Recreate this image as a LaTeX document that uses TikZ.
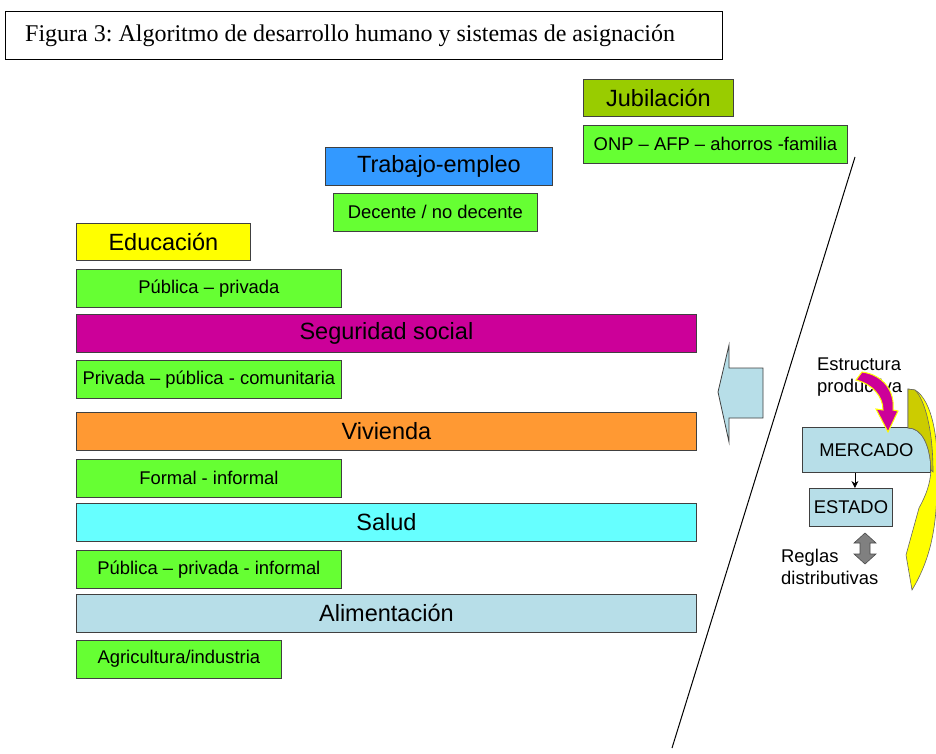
\documentclass[tikz,border=0pt]{standalone}
\usepackage{fontspec}
\setmainfont{Liberation Serif}
\setsansfont{Liberation Sans}
\usetikzlibrary{positioning, arrows.meta}
\frenchspacing

\definecolor{verde}{HTML}{66FF33}
\definecolor{oliva}{HTML}{99CC00}
\definecolor{azul}{HTML}{3399FF}
\definecolor{magenta2}{HTML}{CC0099}
\definecolor{naranja}{HTML}{FF9933}
\definecolor{cian}{HTML}{66FFFF}
\definecolor{celeste}{HTML}{B7DEE8}
\definecolor{amarillo}{HTML}{FFFF00}
\definecolor{olivaosc}{HTML}{CCCC00}

\newcommand{\grande}{\sffamily\fontsize{23.5}{28}\selectfont}
\newcommand{\chico}{\sffamily\fontsize{18.4}{22}\selectfont}

\tikzset{
	caja/.style={draw=black!75, line width=0.8pt, inner sep=0pt, minimum height=38},
	barra/.style={caja, anchor=north west, minimum width=620, font=\grande},
	rotulo/.style={caja, anchor=north west, font=\grande},
	sub/.style={caja, fill=verde, minimum width=265, font=\chico}
}

\begin{document}
\begin{tikzpicture}[x=1pt, y=-1pt]
		\useasboundingbox (0,0) rectangle (936,754);
		
		% titulo
		\draw[line width=0.8pt] (5,11) rectangle (722,59);
		\node[anchor=west, inner sep=0pt, font=\fontsize{24}{28}\selectfont] (titulo) at (25,36)
		{Figura 3: Algoritmo de desarrollo humano y sistemas de asignación};
		
		% escalones
		\node[rotulo, fill=oliva, minimum width=150, minimum height=37] (jub) at (583,79) {Jubilación};
		\node[sub, below right = 8pt and 0pt of jub.south west, minimum width=264] (onp) {ONP – AFP – ahorros -familia};
		
		\node[rotulo, fill=azul, minimum width=227] (trab) at (325,147) {Trabajo-empleo};
		\node[sub, below right = 7pt and 8pt of trab.south west, minimum width=204] (dec) {Decente / no decente};
		
		\node[rotulo, fill=amarillo, minimum width=174, minimum height=37] (edu) at (76,223) {Educación};
		\node[sub, below right = 8pt and 0pt of edu.south west] (edupp) {Pública – privada};
		
		% barras
		\node[barra, fill=magenta2] (seg) at (76,314) {Seguridad social};
		\node[sub, below right = 7pt and 0pt of seg.south west] (segppc) {Privada – pública - comunitaria};
		
		\node[barra, fill=naranja] (viv) at (76,412) {Vivienda};
		\node[sub, below right = 8pt and 0pt of viv.south west] (vivfi) {Formal - informal};
		
		\node[barra, fill=cian] (sal) at (76,503) {Salud};
		\node[sub, below right = 8pt and 0pt of sal.south west] (salppi) {Pública – privada - informal};
		
		\node[barra, fill=celeste] (ali) at (76,594) {Alimentación};
		\node[sub, below right = 7pt and 0pt of ali.south west, minimum width=205] (agr) {Agricultura/industria};
		
		% linea diagonal
		\draw[line width=1pt] (855,157) -- (672,748);
		
		% flecha izquierda
		\draw[draw=black!75, fill=celeste, line width=0.8pt]
		(718,392) -- (729,345) -- (729,368) -- (763,368) -- (763,418) -- (729,418) -- (729,442) -- cycle;
		
		% lado derecho
		\node[anchor=north west, inner sep=0pt, align=left, font=\chico] (estr) at (817,358) {Estructura\\productiva};
		\node[caja, anchor=north west, fill=celeste, minimum width=128, minimum height=45, font=\chico] (mer) at (802,427) {MERCADO};
		\node[caja, anchor=north west, fill=celeste, minimum width=83, font=\chico] (est) at (809,488) {ESTADO};
		\draw[-{Stealth[length=7pt, width=7pt]}, line width=0.8pt] ([xshift=4]est.north |- mer.south) -- ([xshift=4]est.north);
		\node[anchor=north west, inner sep=0pt, align=left, font=\chico] (reg) at (781,549) {Reglas\\distributivas};
		
		% flecha doble
		\draw[draw=black!70, fill=gray, line width=0.6pt]
		(865,533) -- (876,543) -- (870,543) -- (870,554) -- (876,554) -- (865,564)
		-- (854,554) -- (860,554) -- (860,543) -- (854,543) -- cycle;
		
		% flecha curva magenta
		\draw[draw=amarillo, fill=magenta2, line width=1pt]
		(862,372) .. controls (884,375) and (895,392) .. (893,410) -- (898,411) -- (888,432)
		-- (876,409) -- (883,410) .. controls (883,396) and (872,384) .. (856,380) -- cycle;
		
		% flecha curva amarilla
		\draw[draw=black!60, fill=amarillo, line width=0.6pt]
		(908,389) -- (915,390) .. controls (932,400) and (940,440) .. (937,490)
		.. controls (936,530) and (930,560) .. (912,590) -- (906,555) -- (919,508)
		.. controls (926,495) and (930,485) .. (931,470)
		.. controls (930,445) and (922,428) .. (908,428) -- cycle;
		\draw[draw=black!60, fill=olivaosc, line width=0.6pt]
		(908,389) -- (915,390) .. controls (925,400) and (933,430) .. (933,472)
		-- (931,470) .. controls (930,445) and (922,428) .. (908,428) -- cycle;
	\end{tikzpicture}
\end{document}
